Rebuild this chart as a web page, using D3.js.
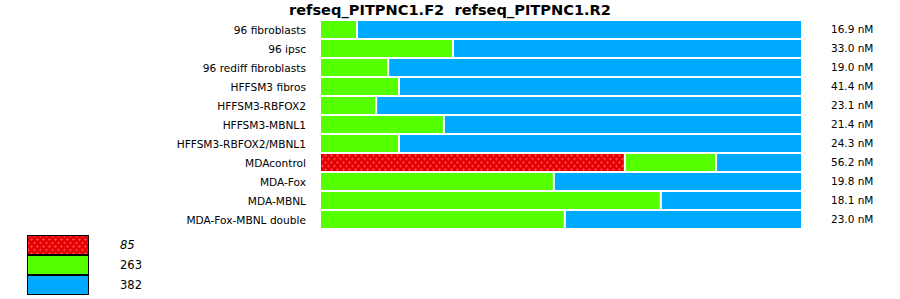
<html>
<head>
<style>
  body { margin: 0; background: #fff; }
  text { font-family: "DejaVu Sans", sans-serif; fill: #000; }
</style>
</head>
<body>
  <svg id="svg" width="900" height="299"></svg>

  <script src="https://cdn.jsdelivr.net/npm/d3@7"></script>
  <script type="text/javascript">
  // samples, top to bottom
  const samples = ["96 fibroblasts", "96 ipsc", "96 rediff fibroblasts", "HFFSM3 fibros",
    "HFFSM3-RBFOX2", "HFFSM3-MBNL1", "HFFSM3-RBFOX2/MBNL1", "MDAcontrol",
    "MDA-Fox", "MDA-MBNL", "MDA-Fox-MBNL double"];
  // percent of each product size per sample
  const pct85  = [0, 0, 0, 0, 0, 0, 0, 63.3, 0, 0, 0];
  const pct263 = [7.5, 27.5, 14.0, 16.25, 11.5, 25.6, 16.25, 19.0, 48.5, 70.8, 50.8];
  const pct382 = [92.5, 72.5, 86.0, 83.75, 88.5, 74.4, 83.75, 17.7, 51.5, 29.2, 49.2];
  const conc = ["16.9 nM", "33.0 nM", "19.0 nM", "41.4 nM", "23.1 nM", "21.4 nM",
    "24.3 nM", "56.2 nM", "19.8 nM", "18.1 nM", "23.0 nM"];
  const sizes = ["85", "263", "382"];

  const colors = {"85": "url(#redpat)", "263": "#55ff00", "382": "#00aaff"};
  const series = {"85": pct85, "263": pct263, "382": pct382};

  let svg = d3.select("#svg");

  // red checkered fill
  let pat = svg.append("defs").append("pattern")
    .attr("id", "redpat")
    .attr("patternUnits", "userSpaceOnUse")
    .attr("width", 6).attr("height", 7);
  pat.append("rect").attr("width", 6).attr("height", 7).attr("fill", "#e20000");
  function plus(cx, cy) {
    pat.append("rect").attr("x", cx - 1.5).attr("y", cy - 0.5).attr("width", 3).attr("height", 1).attr("fill", "#ff3a3a");
    pat.append("rect").attr("x", cx - 0.5).attr("y", cy - 1.5).attr("width", 1).attr("height", 3).attr("fill", "#ff3a3a");
  }
  plus(1.5, 1.5);
  plus(4.5, 5);
  plus(-1.5, 5);

  let x = d3.scaleLinear().domain([0, 100]).range([321, 801]);
  let y = d3.scaleBand().domain(samples).range([21, 228]).paddingInner(2 / 19);

  svg.append("text")
    .attr("x", 450).attr("y", 15)
    .attr("text-anchor", "middle")
    .style("font-size", "14.6px").style("font-weight", "bold")
    .style("white-space", "pre")
    .text("refseq_PITPNC1.F2  refseq_PITPNC1.R2");

  let rows = samples.map((s, i) => {
    let cum = 0;
    let segs = sizes.filter(k => series[k][i] > 0).map(k => {
      let d = {sample: s, size: k, x0: cum, x1: cum + series[k][i]};
      cum += series[k][i];
      return d;
    });
    segs.forEach((d, j) => { d.first = j == 0; d.last = j == segs.length - 1; });
    return segs;
  });

  let g = svg.selectAll("g.row").data(rows).enter().append("g").attr("class", "row");
  g.selectAll("rect").data(d => d).enter().append("rect")
    .attr("x", d => x(d.x0) + (d.first ? 0 : 1))
    .attr("width", d => x(d.x1) - x(d.x0) - (d.first ? 0 : 1) - (d.last ? 0 : 1))
    .attr("y", d => y(d.sample))
    .attr("height", y.bandwidth())
    .attr("fill", d => colors[d.size]);

  svg.selectAll("text.lab").data(samples).enter().append("text")
    .attr("class", "lab")
    .attr("x", 306).attr("y", d => y(d) + y.bandwidth() / 2)
    .attr("dy", "0.38em")
    .attr("text-anchor", "end")
    .style("font-size", "10.6px")
    .text(d => d);

  svg.selectAll("text.conc").data(conc).enter().append("text")
    .attr("class", "conc")
    .attr("x", 831).attr("y", (d, i) => y(samples[i]) + y.bandwidth() / 2)
    .attr("dy", "0.38em")
    .style("font-size", "10.5px")
    .text(d => d);

  // legend
  let ly = d3.scaleBand().domain(sizes).range([235, 295]);
  svg.selectAll("rect.leg").data(sizes).enter().append("rect")
    .attr("class", "leg")
    .attr("x", 27.5).attr("y", d => ly(d) + 0.5)
    .attr("width", 61).attr("height", ly.bandwidth() - 1)
    .attr("fill", d => colors[d])
    .attr("stroke", "#000").attr("stroke-width", 1);
  svg.selectAll("text.leg").data(sizes).enter().append("text")
    .attr("class", "leg")
    .attr("x", 120).attr("y", d => ly(d) + ly.bandwidth() / 2)
    .attr("dy", "0.38em")
    .style("font-size", "11.5px")
    .style("font-style", d => d == "85" ? "italic" : "normal")
    .text(d => d);
  </script>
</body>
</html>
